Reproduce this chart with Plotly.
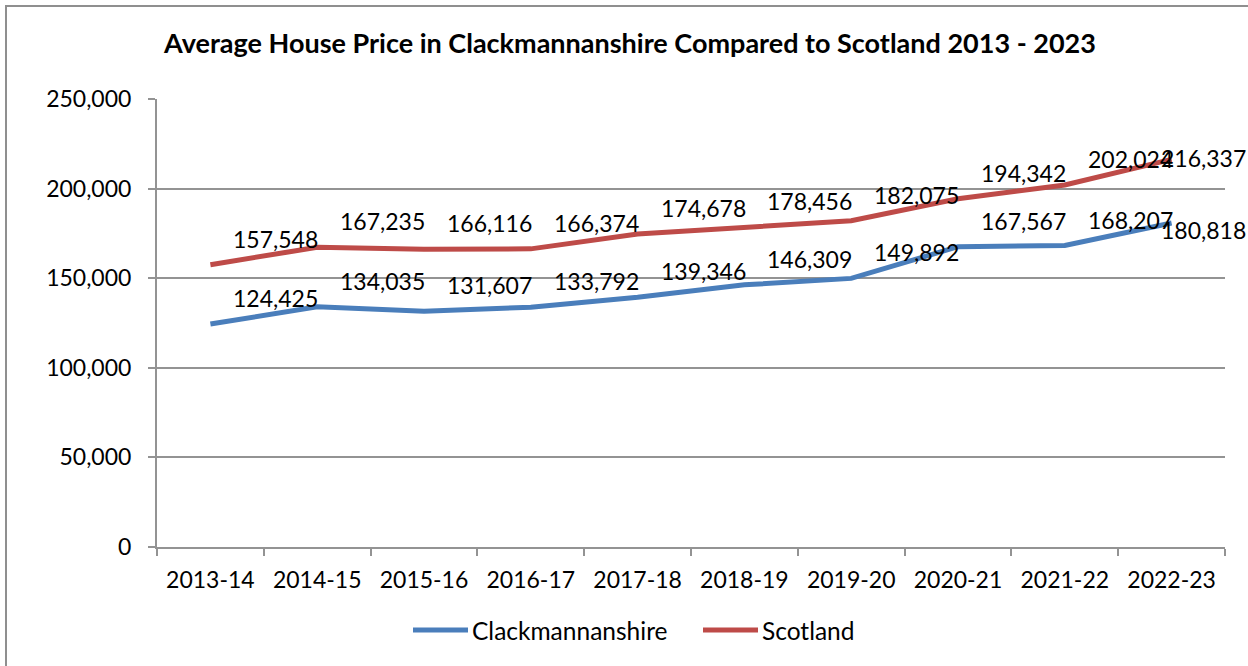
import plotly.graph_objects as go

years = ["2013-14", "2014-15", "2015-16", "2016-17", "2017-18",
         "2018-19", "2019-20", "2020-21", "2021-22", "2022-23"]
clack = [124425, 134035, 131607, 133792, 139346, 146309, 149892, 167567, 168207, 180818]
scotland = [157548, 167235, 166116, 166374, 174678, 178456, 182075, 194342, 202024, 216337]
y_ticks = [0, 50000, 100000, 150000, 200000, 250000]

BLUE = "#4A7EBB"
RED = "#BE4B48"
GRID = "#939393"
FONT = "Lato"

W, H = 1248, 666
L, R, T, B = 157, 23, 99, 119
PW, PH = W - L - R, H - T - B


def px(x):
    return (x - L) / PW


def py(y):
    return (H - B - y) / PH


fig = go.Figure()
fig.add_trace(go.Scatter(x=years, y=clack, mode="lines", name="Clackmannanshire",
                         line=dict(color=BLUE, width=5), showlegend=False))
fig.add_trace(go.Scatter(x=years, y=scotland, mode="lines", name="Scotland",
                         line=dict(color=RED, width=5), showlegend=False))

annotations = []
for series in (clack, scotland):
    n = len(series)
    for i, (cat, v) in enumerate(zip(years, series)):
        if i == n - 1:
            xs, ys = -13, (1 if series is scotland else -7)
        else:
            xs, ys = 21, 26
        annotations.append(dict(x=cat, y=v, xref="x", yref="y", text=f"{v:,}",
                                showarrow=False, xanchor="left", yanchor="middle",
                                xshift=xs, yshift=ys,
                                font=dict(family=FONT, size=23, color="black")))

# custom legend
legend_items = [("Clackmannanshire", BLUE, 413), ("Scotland", RED, 703)]
shapes = []
for name, col, x0 in legend_items:
    shapes.append(dict(type="line", xref="paper", yref="paper",
                       x0=px(x0), x1=px(x0 + 55), y0=py(630), y1=py(630),
                       line=dict(color=col, width=5)))
    annotations.append(dict(x=px(x0 + 57), y=py(630), xref="paper", yref="paper",
                            text=name, showarrow=False, xanchor="left", yanchor="middle",
                            font=dict(family=FONT, size=24.5, color="black")))

# chart border
shapes.append(dict(type="rect", xref="paper", yref="paper",
                   x0=px(6), x1=px(1262), y0=py(680), y1=py(6),
                   line=dict(color="#8f8f8f", width=2), layer="below"))

fig.update_layout(
    width=W, height=H,
    margin=dict(l=L, r=R, t=T, b=B),
    paper_bgcolor="white", plot_bgcolor="white",
    font=dict(family=FONT, size=23, color="black"),
    title=dict(text="<b>Average House Price in Clackmannanshire Compared to Scotland 2013 - 2023</b>",
               x=630 / W, xanchor="center", y=1 - 44 / H, yanchor="middle",
               xref="container", yref="container",
               font=dict(family=FONT, size=27, color="black")),
    annotations=annotations,
    shapes=shapes,
    showlegend=False,
)

fig.update_xaxes(type="category", range=[-0.5, len(years) - 0.5],
                 tickson="boundaries", ticks="outside", ticklen=7, tickwidth=2,
                 tickcolor=GRID, showline=True, linecolor=GRID, linewidth=2,
                 showgrid=False, ticklabelstandoff=11,
                 tickfont=dict(family=FONT, size=23, color="black"))
fig.update_yaxes(range=[0, 250000], tickvals=y_ticks, tickformat=",",
                 ticks="outside", ticklen=7, tickwidth=2, tickcolor=GRID,
                 showline=True, linecolor=GRID, linewidth=2,
                 showgrid=True, gridcolor=GRID, gridwidth=2, zeroline=False,
                 ticklabelstandoff=12,
                 tickfont=dict(family=FONT, size=23, color="black"))

fig.write_html("out.html", config={"displayModeBar": False},
               post_script="document.body.style.margin='0';document.body.style.overflow='hidden';")
